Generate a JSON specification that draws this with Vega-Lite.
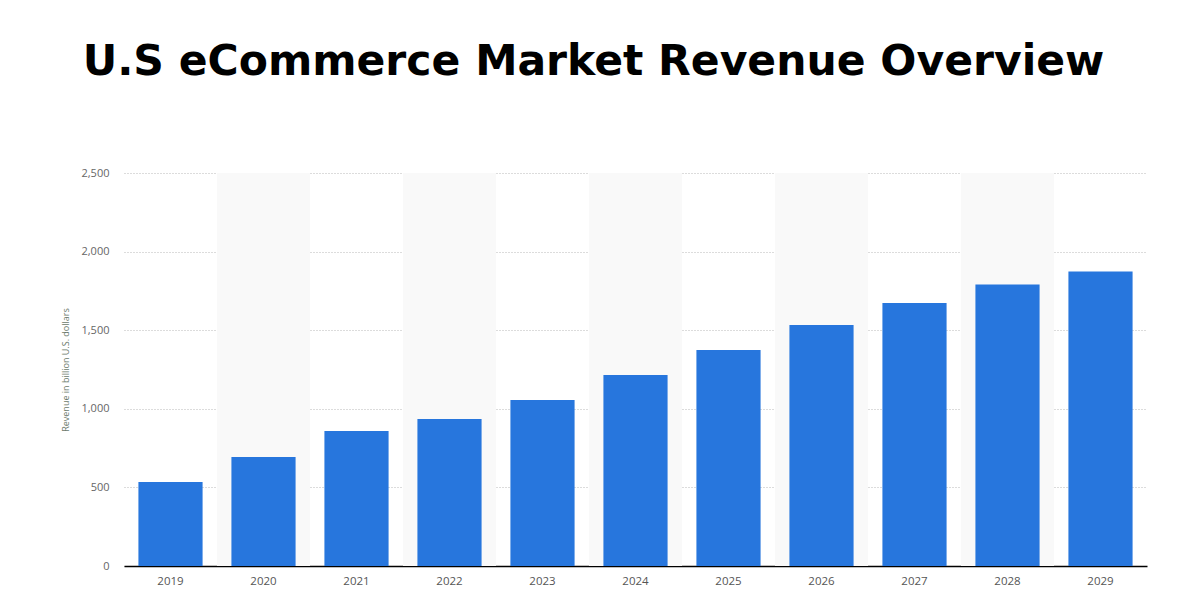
{
  "$schema": "https://vega.github.io/schema/vega-lite/v6.json",
  "autosize": "none",
  "width": 1023,
  "height": 393,
  "padding": {"left": 124, "top": 173, "right": 40, "bottom": 43},
  "background": "white",
  "title": {
    "text": "U.S eCommerce Market Revenue Overview",
    "anchor": "middle",
    "dx": -42,
    "offset": 50,
    "baseline": "alphabetic",
    "font": "DejaVu Sans",
    "fontSize": 42.5,
    "fontWeight": "bold",
    "color": "#000000"
  },
  "data": {
    "values": [
      {"year": "2019", "revenue": 535},
      {"year": "2020", "revenue": 694},
      {"year": "2021", "revenue": 859},
      {"year": "2022", "revenue": 935},
      {"year": "2023", "revenue": 1056},
      {"year": "2024", "revenue": 1215},
      {"year": "2025", "revenue": 1374},
      {"year": "2026", "revenue": 1533},
      {"year": "2027", "revenue": 1673},
      {"year": "2028", "revenue": 1790},
      {"year": "2029", "revenue": 1873}
    ]
  },
  "config": {
    "view": {"stroke": null},
    "font": "Open Sans"
  },
  "layer": [
    {
      "transform": [{"filter": "toNumber(datum.year) % 2 == 0"}],
      "mark": {"type": "bar", "color": "#f9f9f9", "width": {"band": 1}},
      "encoding": {
        "x": {"field": "year", "type": "nominal"},
        "y": {"datum": 2500, "type": "quantitative", "scale": {"domain": [0, 2500], "nice": false}},
        "y2": {"datum": 0}
      }
    },
    {
      "mark": {"type": "bar", "color": "#2776dd", "width": {"band": 0.69}},
      "encoding": {
        "x": {
          "field": "year",
          "type": "nominal",
          "scale": {"paddingInner": 0, "paddingOuter": 0},
          "axis": {
            "title": null,
            "labelAngle": 0,
            "labelAlign": "center",
            "labelFlush": false,
            "bandPosition": 0.5,
            "labelColor": "#555555",
            "labelFontSize": 11.5,
            "labelPadding": 15,
            "ticks": false,
            "domainColor": "#000000",
            "domainWidth": 1.5,
            "grid": false
          }
        },
        "y": {
          "field": "revenue",
          "type": "quantitative",
          "scale": {"domain": [0, 2500], "nice": false},
          "axis": {
            "title": "Revenue in billion U.S. dollars",
            "titleFontSize": 9,
            "titleFontWeight": "normal",
            "titleColor": "#6b7a6b",
            "titlePadding": 10,
            "values": [0, 500, 1000, 1500, 2000, 2500],
            "format": ",d",
            "labelColor": "#666666",
            "labelFontSize": 11,
            "labelPadding": 15,
            "ticks": false,
            "domain": false,
            "grid": true,
            "gridColor": "#b8b8b8",
            "gridDash": [1, 2],
            "gridWidth": 1
          }
        }
      }
    }
  ]
}
